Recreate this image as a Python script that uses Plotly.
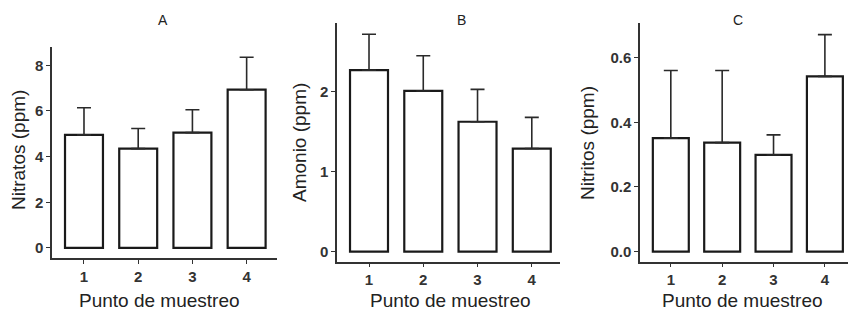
import plotly.graph_objects as go

# ---- data ----
sites = [1, 2, 3, 4]
site_labels = ["1", "2", "3", "4"]

nitratos_mean = [4.95, 4.35, 5.05, 6.93]
nitratos_err = [1.19, 0.88, 1.00, 1.42]

amonio_mean = [2.27, 2.01, 1.625, 1.29]
amonio_err = [0.45, 0.44, 0.405, 0.39]

nitritos_mean = [0.351, 0.337, 0.299, 0.542]
nitritos_err = [0.209, 0.223, 0.062, 0.129]

panel_titles = ["A", "B", "C"]
y_titles = ["Nitratos (ppm)", "Amonio (ppm)", "Nitritos (ppm)"]
x_title = "Punto de muestreo"

y_ticks_A = [0, 2, 4, 6, 8]
y_ticks_B = [0, 1, 2]
y_ticks_C = [0.0, 0.2, 0.4, 0.6]
y_ticklabels_C = ["0.0", "0.2", "0.4", "0.6"]

W, H = 848, 312
FONT = "Liberation Sans, Arial, sans-serif"
AX = "#333333"

fig = go.Figure()

panels = [
    (nitratos_mean, nitratos_err, "x", "y"),
    (amonio_mean, amonio_err, "x2", "y2"),
    (nitritos_mean, nitritos_err, "x3", "y3"),
]
for mean, err, xa, ya in panels:
    fig.add_trace(go.Bar(
        x=sites, y=mean, width=0.7, xaxis=xa, yaxis=ya,
        marker=dict(color="white", line=dict(color="#1a1a1a", width=2.2)),
        error_y=dict(type="data", symmetric=False, array=err,
                     arrayminus=[0] * len(err), color="#2a2a2a",
                     thickness=1.6, width=7),
        showlegend=False, hoverinfo="skip",
    ))

def px_x(p):
    return p / W

def px_y(p):
    return 1 - p / H

xcommon = dict(showline=True, linecolor=AX, linewidth=1.5, ticks="outside",
               ticklen=4, tickcolor=AX, tickwidth=1.2, showgrid=False,
               zeroline=False, tickmode="array", tickvals=sites,
               ticktext=site_labels,
               tickfont=dict(family=FONT, size=15, color="#333", weight="bold"))
ycommon = dict(showline=True, linecolor=AX, linewidth=1.5, ticks="outside",
               ticklen=4, tickcolor=AX, tickwidth=1.2, showgrid=False,
               zeroline=False, tickmode="array",
               tickfont=dict(family=FONT, size=15, color="#333", weight="bold"))

fig.update_layout(
    width=W, height=H,
    margin=dict(l=0, r=0, t=0, b=0),
    paper_bgcolor="white", plot_bgcolor="white",
    bargap=0.3,
    xaxis=dict(xcommon, domain=[px_x(52), px_x(277)], range=[0.41, 4.56], anchor="y"),
    yaxis=dict(ycommon, domain=[px_y(258), px_y(47)], range=[-0.44, 8.8],
               tickvals=y_ticks_A, anchor="x"),
    xaxis2=dict(xcommon, domain=[px_x(337), px_x(560)], range=[0.41, 4.52], anchor="y2"),
    yaxis2=dict(ycommon, domain=[px_y(261.7), px_y(23)], range=[-0.125, 2.86],
                tickvals=y_ticks_B, anchor="x2"),
    xaxis3=dict(xcommon, domain=[px_x(640), 1.0], range=[0.40, 4.45], anchor="y3"),
    yaxis3=dict(ycommon, domain=[px_y(261.7), px_y(23)], range=[-0.031, 0.707],
                tickvals=y_ticks_C, ticktext=y_ticklabels_C, anchor="x3"),
)

annots = []
title_pos = [(163, 20), (462, 20), (738, 20)]
ytitle_pos = [(18, 150), (300, 143), (588, 143)]
xtitle_pos = [(159, 300), (450, 300), (742, 300)]
for i in range(3):
    tx, ty = title_pos[i]
    annots.append(dict(text=panel_titles[i], x=px_x(tx), y=px_y(ty), xref="paper",
                       yref="paper", showarrow=False, xanchor="center", yanchor="middle",
                       font=dict(family=FONT, size=14, color="#222")))
    yx, yy = ytitle_pos[i]
    annots.append(dict(text=y_titles[i], x=px_x(yx), y=px_y(yy), xref="paper",
                       yref="paper", showarrow=False, xanchor="center", yanchor="middle",
                       textangle=-90, font=dict(family=FONT, size=19, color="#222")))
    xx, xy = xtitle_pos[i]
    annots.append(dict(text=x_title, x=px_x(xx), y=px_y(xy), xref="paper",
                       yref="paper", showarrow=False, xanchor="center", yanchor="middle",
                       font=dict(family=FONT, size=19, color="#222")))
fig.update_layout(annotations=annots)

fig.write_html("out.html", config={"displayModeBar": False},
               post_script="document.body.style.margin='0';document.body.style.overflow='hidden';")
